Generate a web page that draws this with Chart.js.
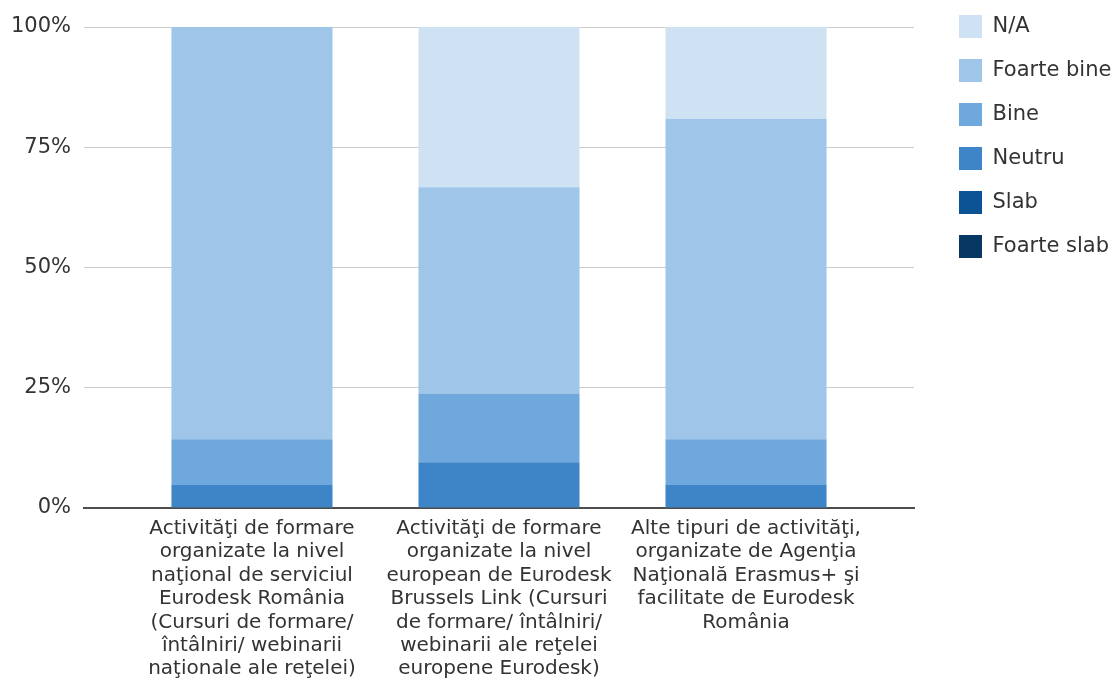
<!DOCTYPE html>
<html>
<head>
  <title>Evaluare activități de formare Eurodesk</title>
  <style>
    html, body { margin: 0; padding: 0; background: #fff; overflow: hidden; }
    #wrap { width: 1140px; height: 684px; position: relative; }
  </style>
</head>
<body>
<div id="wrap">
  <canvas id="ratingChart"></canvas>
</div>

<script src="https://cdn.jsdelivr.net/npm/chart.js"></script>
<script>
  // categories (one line per array entry, as wrapped in the original)
  const categories = [
    ['Activităţi de formare', 'organizate la nivel', 'naţional de serviciul', 'Eurodesk România',
     '(Cursuri de formare/', 'întâlniri/ webinarii', 'naţionale ale reţelei)'],
    ['Activităţi de formare', 'organizate la nivel', 'european de Eurodesk', 'Brussels Link (Cursuri',
     'de formare/ întâlniri/', 'webinarii ale reţelei', 'europene Eurodesk)'],
    ['Alte tipuri de activităţi,', 'organizate de Agenţia', 'Naţională Erasmus+ şi',
     'facilitate de Eurodesk', 'România']
  ];

  // percent of answers per category
  const foarteSlab = [0, 0, 0];
  const slab = [0, 0, 0];
  const neutru = [4.76, 9.52, 4.76];
  const bine = [9.52, 14.29, 9.52];
  const foarteBine = [85.72, 42.86, 66.67];
  const na = [0, 33.33, 19.05];

  const yTicks = [0, 25, 50, 75, 100];

  const fontFamily = "'DejaVu Sans', Verdana, sans-serif";
  const textColor = '#333333';

  function toPoints(values) {
    return values.map((v, i) => ({ x: i, y: v }));
  }

  // move the legend block to where the original has it (and let the text run off the edge)
  const legendPlace = {
    id: 'legendPlace',
    afterLayout(chart) {
      const lg = chart.legend;
      const pad = chart.options.plugins.legend.labels.padding;
      const dx = chart.chartArea.right + 45 - pad - lg.left;
      const dy = 15 - pad - lg.top;
      lg.left += dx;
      lg.top += dy; lg.bottom += dy;
      lg.right = chart.width;
      lg.width = lg.right - lg.left;
    }
  };

  const ctx = document.getElementById('ratingChart');

  new Chart(ctx, {
    type: 'bar',
    data: {
      datasets: [
        { label: 'Foarte slab', data: toPoints(foarteSlab), backgroundColor: '#073763' },
        { label: 'Slab', data: toPoints(slab), backgroundColor: '#0b5394' },
        { label: 'Neutru', data: toPoints(neutru), backgroundColor: '#3d85c6' },
        { label: 'Bine', data: toPoints(bine), backgroundColor: '#6fa8dc' },
        { label: 'Foarte bine', data: toPoints(foarteBine), backgroundColor: '#9fc5e8' },
        { label: 'N/A', data: toPoints(na), backgroundColor: '#cfe2f3' }
      ]
    },
    options: {
      responsive: true,
      maintainAspectRatio: false,
      animation: false,
      barPercentage: 0.652,
      categoryPercentage: 1,
      layout: {
        padding: { top: 27, right: 76, bottom: 0, left: 0 }
      },
      plugins: {
        tooltip: { enabled: false },
        legend: {
          position: 'right',
          align: 'start',
          reverse: true,
          maxWidth: 150,
          labels: {
            boxWidth: 23,
            boxHeight: 23,
            padding: 21,
            color: textColor,
            font: { family: fontFamily, size: 21 }
          }
        }
      },
      scales: {
        x: {
          type: 'linear',
          stacked: true,
          min: -0.68,
          max: 2.68,
          offset: false,
          grid: { display: false },
          border: { display: true, color: '#4d4d4d', width: 2 },
          afterBuildTicks: (scale) => {
            scale.ticks = categories.map((c, i) => ({ value: i }));
          },
          ticks: {
            autoSkip: false,
            maxRotation: 0,
            minRotation: 0,
            padding: 1,
            color: textColor,
            font: { family: fontFamily, size: 20, lineHeight: 1.17 },
            callback: (v) => categories[v]
          },
          afterFit: (scale) => { scale.height = 176; }
        },
        y: {
          stacked: true,
          min: 0,
          max: 100,
          afterBuildTicks: (scale) => {
            scale.ticks = yTicks.map(v => ({ value: v }));
          },
          grid: {
            drawTicks: false,
            color: (c) => c.tick && c.tick.value === 0 ? 'rgba(0,0,0,0)' : '#cccccc'
          },
          border: { display: false },
          ticks: {
            padding: 13,
            color: textColor,
            font: { family: fontFamily, size: 21 },
            callback: (v) => v + '%'
          },
          afterFit: (scale) => { scale.width = 84; }
        }
      }
    },
    plugins: [legendPlace]
  });
</script>
</body>
</html>
